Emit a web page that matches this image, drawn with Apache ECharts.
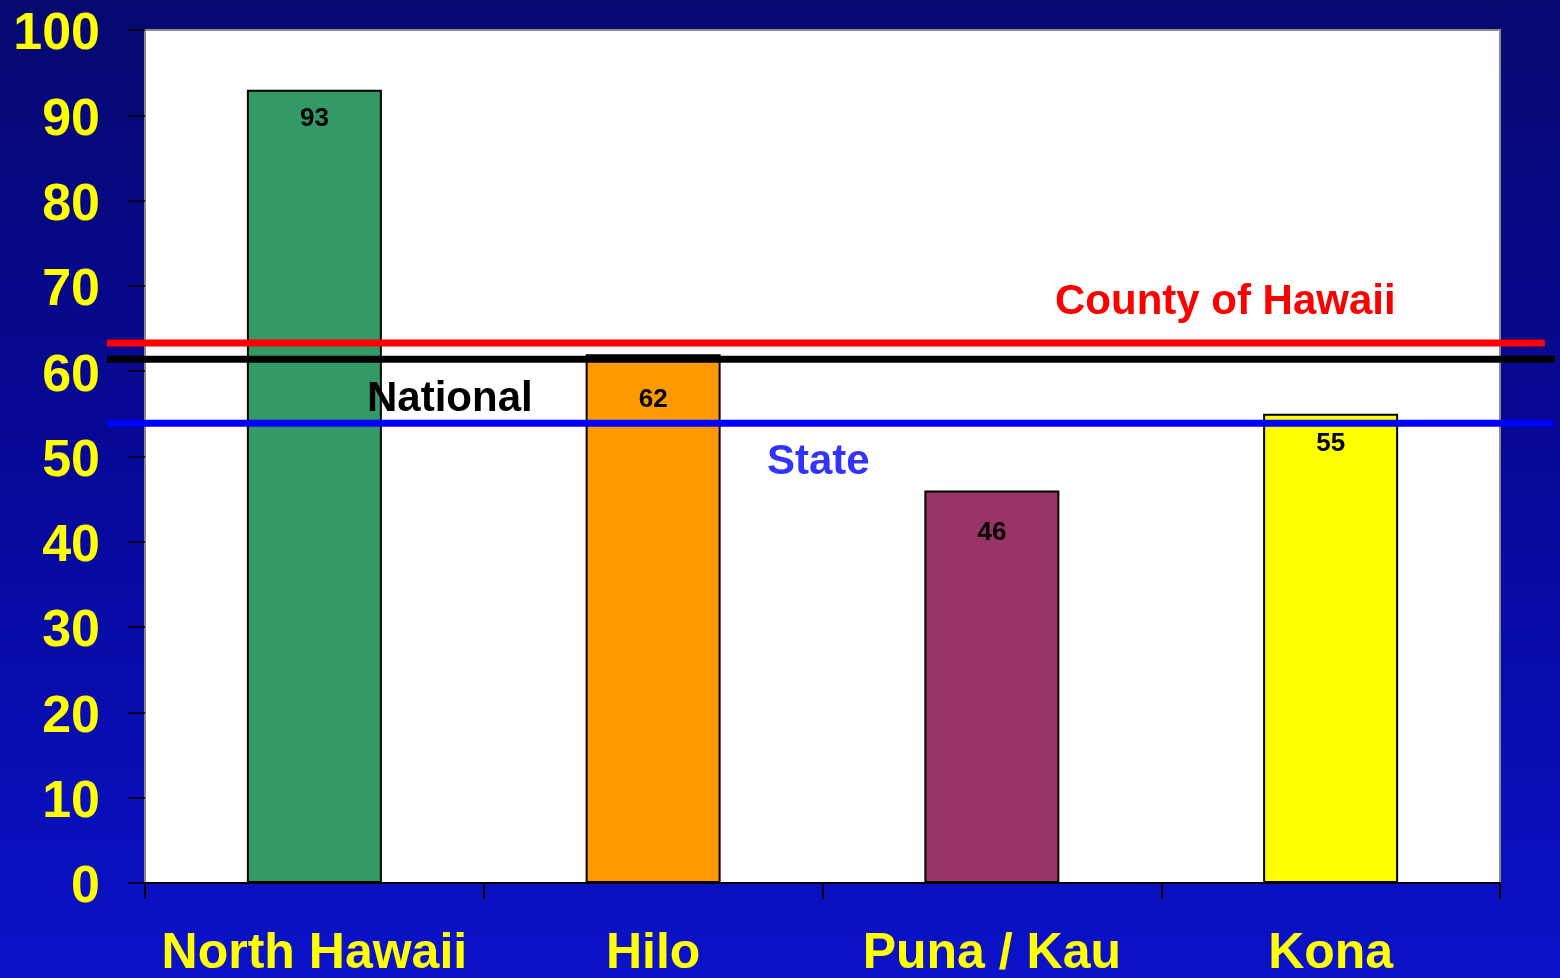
<!DOCTYPE html>
<html>
<head>
<meta charset="utf-8">
<script src="https://cdn.jsdelivr.net/npm/echarts@6/dist/echarts.min.js"></script>
<style>
  html, body { margin: 0; padding: 0; }
  #main { width: 1560px; height: 978px; }
</style>
</head>
<body>
<div id="main"></div>
<script>
// data
var categories = ["North Hawaii", "Hilo", "Puna / Kau", "Kona"];
var values = [93, 62, 46, 55];
var barColors = ["#339966", "#FF9900", "#993366", "#FFFF00"];
var labelGaps = [16, 33, 29, 17]; // data labels sit at slightly different depths
var yTicks = [0, 10, 20, 30, 40, 50, 60, 70, 80, 90, 100];

// reference lines
var countyValue = 63.3;
var nationalValue = 61.4;
var stateValue = 53.9;

var myChart = echarts.init(document.getElementById("main"));

var font = "Arial, 'Liberation Sans', sans-serif";

myChart.setOption({
  backgroundColor: {
    type: "linear", x: 0, y: 0, x2: 0, y2: 1,
    colorStops: [
      { offset: 0, color: "#060870" },
      { offset: 0.5, color: "#07099a" },
      { offset: 1, color: "#0b12c8" }
    ]
  },
  animation: false,
  grid: [
    { left: 145, right: 60, top: 30, bottom: 95, show: true, backgroundColor: "#ffffff", borderColor: "#8a8a8a", borderWidth: 2, outerBoundsMode: "none" },
    // wider grid for the reference lines, they run past the plot area
    { left: 107, right: 5, top: 30, bottom: 95, outerBoundsMode: "none" }
  ],
  xAxis: [
    {
      type: "category",
      gridIndex: 0,
      data: categories,
      axisLine: { show: true, lineStyle: { color: "#000", width: 2 } },
      axisTick: { show: true, interval: 0, length: 16, lineStyle: { color: "#000", width: 2 } },
      axisLabel: { interval: 0, color: "#ffff00", fontSize: 50, fontWeight: "bold", fontFamily: font, margin: 46 }
    },
    { type: "value", gridIndex: 1, min: 0, max: 1, show: false }
  ],
  yAxis: [
    {
      type: "value",
      gridIndex: 0,
      min: 0,
      max: 100,
      interval: 10,
      splitLine: { show: false },
      axisLine: { show: false },
      axisTick: { show: true, length: 17, lineStyle: { color: "#000", width: 1.5 } },
      axisLabel: {
        color: "#ffff00", fontSize: 52, fontWeight: "bold", fontFamily: font, margin: 45,
        formatter: function (v) { return yTicks.indexOf(v) >= 0 ? "{v|" + v + "}" : ""; },
        rich: {
          v: { color: "#ffff00", fontSize: 52, fontWeight: "bold", fontFamily: font, lineHeight: 62, verticalAlign: "bottom" }
        }
      }
    },
    { type: "value", gridIndex: 1, min: 0, max: 100, show: false }
  ],
  series: [
    {
      type: "bar",
      xAxisIndex: 0,
      yAxisIndex: 0,
      barWidth: 135,
      data: values.map(function (v, i) {
        return { value: v, itemStyle: { color: barColors[i] }, label: { distance: labelGaps[i] } };
      }),
      itemStyle: { borderColor: "#000", borderWidth: 2 },
      label: {
        show: true,
        position: "insideTop",
        color: "#000",
        fontSize: 26,
        fontWeight: "bold",
        fontFamily: font
      },
      z: 2
    },
    {
      type: "line", xAxisIndex: 1, yAxisIndex: 1, symbol: "none", z: 5,
      lineStyle: { color: "#ff0000", width: 7 },
      data: [[0, countyValue], [0.993, countyValue]]
    },
    {
      type: "line", xAxisIndex: 1, yAxisIndex: 1, symbol: "none", z: 5,
      lineStyle: { color: "#000000", width: 7 },
      data: [[0, nationalValue], [1, nationalValue]]
    },
    {
      type: "line", xAxisIndex: 1, yAxisIndex: 1, symbol: "none", z: 5,
      lineStyle: { color: "#0000ff", width: 7 },
      data: [[0, stateValue], [0.999, stateValue]]
    }
  ],
  graphic: [
    { type: "text", left: 1055, top: 281, z: 10, style: { text: "County of Hawaii", fill: "#ff0000", font: "bold 42px " + font } },
    { type: "text", left: 367, top: 378, z: 10, style: { text: "National", fill: "#000000", font: "bold 42px " + font } },
    { type: "text", left: 767, top: 441, z: 10, style: { text: "State", fill: "#3333ff", font: "bold 42px " + font } }
  ]
});
</script>
</body>
</html>
